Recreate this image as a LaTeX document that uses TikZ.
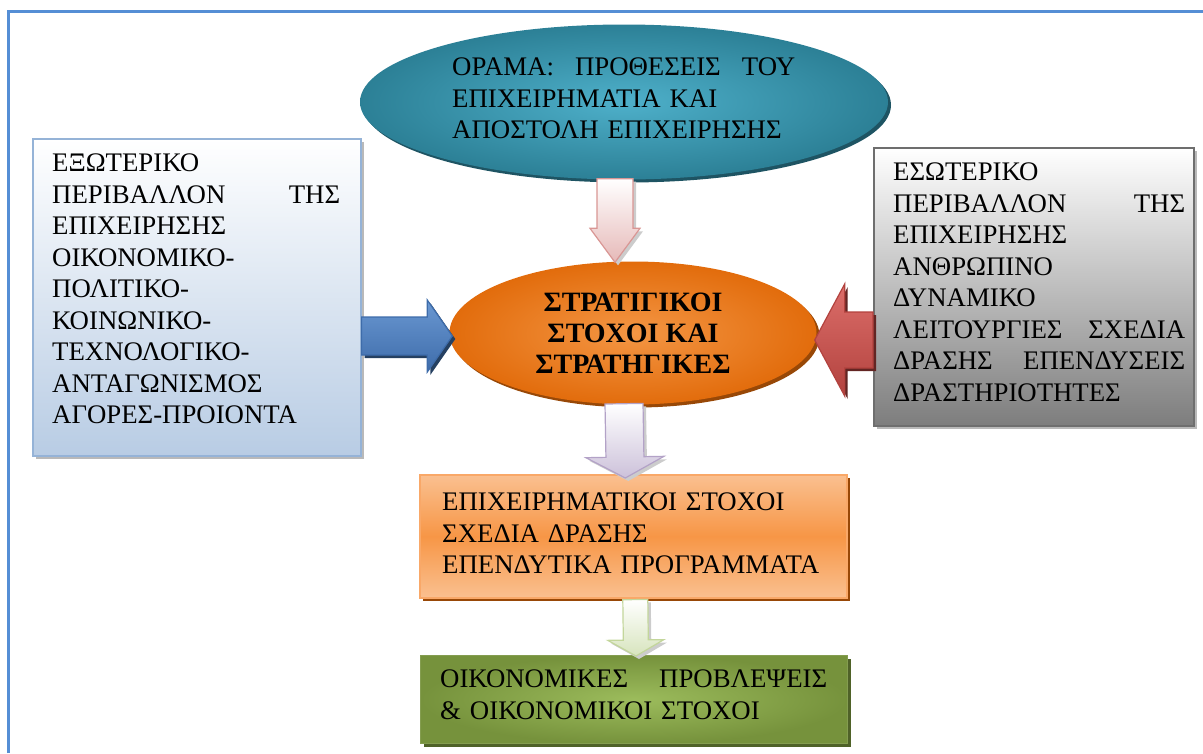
\documentclass[tikz,border=0pt]{standalone}
\usepackage{fontspec}
\setmainfont{Liberation Serif}
\usetikzlibrary{shapes.geometric,shadows,calc}

\definecolor{framebl}{RGB}{85,142,213}
\definecolor{tealin}{RGB}{78,176,202}
\definecolor{tealout}{RGB}{44,128,150}
\definecolor{tealsh}{RGB}{30,84,99}
\definecolor{orin}{RGB}{244,150,68}
\definecolor{orout}{RGB}{226,108,12}
\definecolor{orsh}{RGB}{152,72,7}
\definecolor{extbot}{RGB}{184,204,228}
\definecolor{extline}{RGB}{149,179,215}
\definecolor{intbot}{RGB}{125,125,125}
\definecolor{intline}{RGB}{110,110,110}
\definecolor{goallight}{RGB}{250,192,144}
\definecolor{goalmid}{RGB}{247,150,70}
\definecolor{goalline}{RGB}{249,168,104}
\definecolor{grin}{RGB}{156,188,92}
\definecolor{grout}{RGB}{118,146,60}
\definecolor{grsh}{RGB}{79,98,40}
\definecolor{bluetop}{RGB}{106,152,210}
\definecolor{bluebot}{RGB}{62,108,170}
\definecolor{bluesh}{RGB}{37,64,97}
\definecolor{redtop}{RGB}{220,110,106}
\definecolor{redbot}{RGB}{178,66,62}
\definecolor{redsh}{RGB}{99,37,35}
\definecolor{pinkbot}{RGB}{230,185,184}
\definecolor{pinkline}{RGB}{217,150,148}
\definecolor{lavbot}{RGB}{204,193,218}
\definecolor{lavline}{RGB}{179,162,199}
\definecolor{lgrbot}{RGB}{215,228,189}
\definecolor{lgrline}{RGB}{195,214,155}

% block arrow: style, from, to, half body width, half head width, head length
\newcommand\blockarrow[6]{%
  \path (#2) coordinate (ba) (#3) coordinate (bb) ($(bb)!#6!(ba)$) coordinate (bn);
  \draw[#1] ($(ba)!#4!90:(bb)$) -- ($(bn)!#4!90:(bb)$) -- ($(bn)!#5!90:(bb)$)
    -- (bb) -- ($(bn)!#5!-90:(bb)$) -- ($(bn)!#4!-90:(bb)$) -- ($(ba)!#4!-90:(bb)$) -- cycle;}

\tikzset{
  txt/.style={inner sep=0pt, align=left, anchor=north west},
  softshadow/.style={drop shadow={shadow xshift=3pt, shadow yshift=-3pt, fill=#1, opacity=1}},
  arrowbase/.style={line width=1.2pt, line join=miter},
}

\begin{document}
\begin{tikzpicture}[x=1pt, y=-1pt, font=\fontsize{26.8}{31.5}\selectfont]
\useasboundingbox (0,0) rectangle (1203,753);

% page frame
\coordinate (fa) at (8,753);
\coordinate (fb) at (8,11);
\coordinate (fc) at (1203,11);
\draw[framebl, line width=3pt] (fa) -- (fb) -- (fc);

% vision ellipse
\node[ellipse, minimum width=528pt, minimum height=155pt, inner color=tealin, outer color=tealout,
      softshadow=tealsh] (vision) at (624,102) {};
\node[txt, text width=343pt] (visionT) at (452,58)
  {ΟΡΑΜΑ:\hfill ΠΡΟΘΕΣΕΙΣ\hfill ΤΟΥ\\ ΕΠΙΧΕΙΡΗΜΑΤΙΑ ΚΑΙ\\ ΑΠΟΣΤΟΛΗ ΕΠΙΧΕΙΡΗΣΗΣ};

% external environment
\node[rectangle, minimum width=328pt, minimum height=317pt, anchor=north west,
      top color=white, bottom color=extbot, draw=extline, line width=1.6pt,
      softshadow=gray!55] (ext) at (32,138) {};
\node[txt, text width=288pt] (extT) at (52,154)
  {ΕΞΩΤΕΡΙΚΟ\\ ΠΕΡΙΒΑΛΛΟΝ\hfill ΤΗΣ\\ ΕΠΙΧΕΙΡΗΣΗΣ\\ ΟΙΚΟΝΟΜΙΚΟ-\\ ΠΟΛΙΤΙΚΟ-\\
   ΚΟΙΝΩΝΙΚΟ-\\ ΤΕΧΝΟΛΟΓΙΚΟ-\\ ΑΝΤΑΓΩΝΙΣΜΟΣ\\ ΑΓΟΡΕΣ-ΠΡΟΙΟΝΤΑ};

% internal environment
\node[rectangle, minimum width=320pt, minimum height=278pt, anchor=north west,
      top color=white, bottom color=intbot, draw=intline, line width=1.8pt,
      softshadow=gray!55] (int) at (873,147) {};
\node[txt, text width=292pt] (intT) at (893,163)
  {ΕΣΩΤΕΡΙΚΟ\\ ΠΕΡΙΒΑΛΛΟΝ\hfill ΤΗΣ\\ ΕΠΙΧΕΙΡΗΣΗΣ\\ ΑΝΘΡΩΠΙΝΟ\\ ΔΥΝΑΜΙΚΟ\\
   ΛΕΙΤΟΥΡΓΙΕΣ\hfill ΣΧΕΔΙΑ\\ ΔΡΑΣΗΣ\hfill ΕΠΕΝΔΥΣΕΙΣ\\ ΔΡΑΣΤΗΡΙΟΤΗΤΕΣ};

% strategic goals ellipse
\node[ellipse, minimum width=367pt, minimum height=143pt, inner color=orin, outer color=orout,
      softshadow=orsh, align=center, font=\fontsize{28}{31}\selectfont\bfseries] (strat) at (633,333)
  {ΣΤΡΑΤΙΓΙΚΟΙ\\ ΣΤΟΧΟΙ ΚΑΙ\\ ΣΤΡΑΤΗΓΙΚΕΣ};

% business goals
\node[rectangle, minimum width=427pt, minimum height=123pt, anchor=north west,
      top color=goallight, bottom color=goallight, middle color=goalmid,
      draw=goalline, line width=1.6pt, softshadow=orsh] (goals) at (419,474) {};
\node[txt, text width=390pt] (goalsT) at (442,493)
  {ΕΠΙΧΕΙΡΗΜΑΤΙΚΟΙ ΣΤΟΧΟΙ\\ ΣΧΕΔΙΑ ΔΡΑΣΗΣ\\ ΕΠΕΝΔΥΤΙΚΑ ΠΡΟΓΡΑΜΜΑΤΑ};

% financial forecasts
\node[rectangle, minimum width=427pt, minimum height=88pt, anchor=north west,
      inner color=grin, outer color=grout, draw=grout!90, line width=1pt,
      softshadow=grsh] (fin) at (420,655) {};
\node[txt, text width=387pt] (finT) at (440,670)
  {ΟΙΚΟΝΟΜΙΚΕΣ\hfill ΠΡΟΒΛΕΨΕΙΣ\\ \& ΟΙΚΟΝΟΜΙΚΟΙ ΣΤΟΧΟΙ};

% block arrows between the shapes
\blockarrow{arrowbase, top color=white, bottom color=pinkbot, draw=pinkline, softshadow=gray!40}
  {$(vision.south)+(-9,-1)$}{$(strat.north)+(-18,1)$}{18pt}{25pt}{34pt}
\blockarrow{arrowbase, top color=bluetop, bottom color=bluebot, draw=bluebot, softshadow=bluesh}
  {$(ext.east |- strat.west)+(0,3)$}{$(strat.west)+(3,3)$}{19pt}{36pt}{25pt}
\blockarrow{arrowbase, top color=redtop, bottom color=redbot, draw=redbot, softshadow=redsh}
  {$(int.west |- strat.east)+(0,7)$}{$(strat.east)+(-2,7)$}{28pt}{56pt}{30pt}
\blockarrow{arrowbase, top color=white, bottom color=lavbot, draw=lavline, softshadow=gray!40}
  {$(strat.south)+(-9,-1)$}{$(goals.north)+(-8,4)$}{19pt}{39pt}{21pt}
\blockarrow{arrowbase, top color=white, bottom color=lgrbot, draw=lgrline, softshadow=gray!40}
  {$(goals.south)+(2,1)$}{$(fin.north)+(2,1)$}{12.5pt}{28pt}{16pt}

\end{tikzpicture}
\end{document}
